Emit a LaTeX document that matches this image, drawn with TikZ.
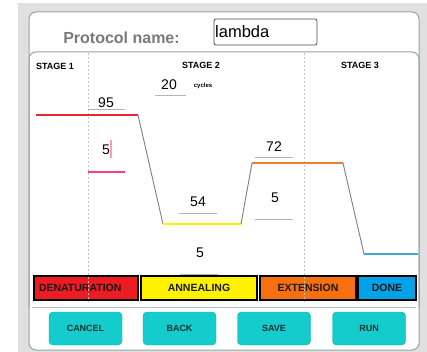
\documentclass[tikz,border=0pt]{standalone}
\usepackage{fontspec}
\setmainfont{Liberation Sans}
\definecolor{bggray}{HTML}{E0E0E0}
\definecolor{panelc}{HTML}{93A9A3}
\definecolor{titlegray}{HTML}{7A7A7A}
\definecolor{ulgray}{HTML}{B4B4B4}
\definecolor{dotgray}{HTML}{C4C4C4}
\definecolor{pinkline}{HTML}{FF3D85}
\definecolor{pinkcur}{HTML}{FF9ABD}
\definecolor{redc}{HTML}{ED1C24}
\definecolor{yelc}{HTML}{FFF200}
\definecolor{orac}{HTML}{F7700F}
\definecolor{bluec}{HTML}{00A2E8}
\definecolor{cyanc}{HTML}{14CCCC}
\definecolor{redline}{HTML}{E52A2F}
\definecolor{yelline}{HTML}{FFEE00}
\definecolor{oraline}{HTML}{F0802E}
\definecolor{blueline}{HTML}{3FA9DB}
\definecolor{rampc}{HTML}{7F7F7F}
\definecolor{btntext}{HTML}{163232}
\begin{document}
\begin{tikzpicture}[x=1pt,y=-1pt,
  panel/.style={draw=panelc,line width=1pt},
  stagelbl/.style={font=\fontsize{9}{10}\selectfont\bfseries,inner sep=0pt},
  valtxt/.style={font=\fontsize{14}{15}\selectfont,inner sep=0pt},
  uline/.style={draw=ulgray,line width=1pt},
  ramp/.style={draw=rampc,line width=0.9pt},
  bar/.style={draw=black,line width=1.2pt,minimum height=24pt,inner sep=0pt,font=\fontsize{10.5}{11}\selectfont\bfseries,text=black!90},
  btn/.style={draw=cyanc!85!black,fill=cyanc,rounded corners=4pt,minimum width=73pt,minimum height=33pt,inner sep=0pt,font=\fontsize{9}{10}\selectfont\bfseries,text=btntext},
  dotv/.style={draw=dotgray,line width=0.8pt,dash pattern=on 2pt off 2pt}
]
\useasboundingbox (0,0) rectangle (427,352);
\fill[bggray] (18,3) rectangle (427,352);
% panels
\draw[panel,fill=white,rounded corners=7pt] (29,12) rectangle (419,350);
\draw[panel,rounded corners=7pt] (29,307) -- (29,52) -- (419,52) -- (419,307);
\coordinate (sepL) at (32,307);
\coordinate (sepR) at (416,307);
\draw[draw=panelc!70,line width=0.8pt] (sepL) -- (sepR);
% title
\node[font=\fontsize{16}{18}\selectfont\bfseries,text=titlegray,inner sep=0pt] (title) at (121.5,38) {Protocol name:};
\node[draw=black!70,line width=0.8pt,rounded corners=2pt,minimum width=103pt,minimum height=26pt,inner sep=0pt] (namebox) at (265.5,32) {};
\node[font=\fontsize{16.5}{18}\selectfont,anchor=west,inner sep=0pt] (name) at (215,32) {lambda};
% stage labels
\node[stagelbl] (s1) at (55,66) {STAGE 1};
\node[stagelbl] (s2) at (201,65) {STAGE 2};
\node[stagelbl] (s3) at (360,65) {STAGE 3};
% bars
\node[bar,fill=redc,minimum width=104pt,text width=94pt,align=left] (den) at (86,288) {DENATURATION};
\node[bar,fill=yelc,minimum width=116pt] (ann) at (199,288) {ANNEALING};
\node[bar,fill=orac,minimum width=96pt] (ext) at (308,288) {EXTENSION};
\node[bar,fill=bluec,minimum width=58pt] (done) at (387,288) {DONE};
% dotted separators
\coordinate (d1t) at (88,53);
\coordinate (d1b) at (88,302);
\coordinate (d2t) at (304,53);
\coordinate (d2b) at (304,302);
\draw[dotv] (d1t) -- (d1b);
\draw[dotv] (d2t) -- (d2b);
% profile
\coordinate (p0) at (36,115);
\coordinate (p1) at (138,115);
\coordinate (p2) at (163,224);
\coordinate (p3) at (241,224);
\coordinate (p4) at (252,163);
\coordinate (p5) at (343,163);
\coordinate (p6) at (364,254);
\coordinate (p7) at (418,254);
\draw[draw=redline,line width=1.6pt] (p0) -- (p1);
\draw[ramp] (p1) -- (p2);
\draw[draw=yelline,line width=2pt] (p2) -- (p3);
\draw[ramp] (p3) -- (p4);
\draw[draw=oraline,line width=1.6pt] (p4) -- (p5);
\draw[ramp] (p5) -- (p6);
\draw[draw=blueline,line width=1.6pt] (p6) -- (p7);
% values
\node[valtxt] (v95) at (106,103) {95};
\coordinate (u95a) at (88,110); \coordinate (u95b) at (125,110);
\draw[uline] (u95a) -- (u95b);
\node[valtxt] (v5a) at (106,150) {5};
\coordinate (cura) at (111,140); \coordinate (curb) at (111,158);
\draw[draw=pinkcur,line width=1.2pt] (cura) -- (curb);
\coordinate (u5aa) at (88,172); \coordinate (u5ab) at (125,172);
\draw[draw=pinkline,line width=1.3pt] (u5aa) -- (u5ab);
\node[valtxt] (v20) at (169,85) {20};
\node[font=\fontsize{6}{7}\selectfont\bfseries,inner sep=0pt] (cyc) at (203,86) {cycles};
\coordinate (u20a) at (155,96); \coordinate (u20b) at (186,96);
\draw[uline] (u20a) -- (u20b);
\node[valtxt] (v54) at (198,202) {54};
\coordinate (u54a) at (179,213); \coordinate (u54b) at (217,213);
\draw[uline] (u54a) -- (u54b);
\node[valtxt] (v5b) at (200,253) {5};
\coordinate (u5ba) at (180,274); \coordinate (u5bb) at (218,274);
\draw[uline] (u5ba) -- (u5bb);
\node[valtxt] (v72) at (274,147) {72};
\coordinate (u72a) at (255,158); \coordinate (u72b) at (293,158);
\draw[uline] (u72a) -- (u72b);
\node[valtxt] (v5c) at (275,198) {5};
\coordinate (u5ca) at (255,219); \coordinate (u5cb) at (293,219);
\draw[uline] (u5ca) -- (u5cb);
% buttons
\node[btn] (cancel) at (85.5,328.5) {CANCEL};
\node[btn] (back) at (179.5,328.5) {BACK};
\node[btn] (save) at (274,328.5) {SAVE};
\node[btn] (run) at (369,328.5) {RUN};
\end{tikzpicture}
\end{document}
